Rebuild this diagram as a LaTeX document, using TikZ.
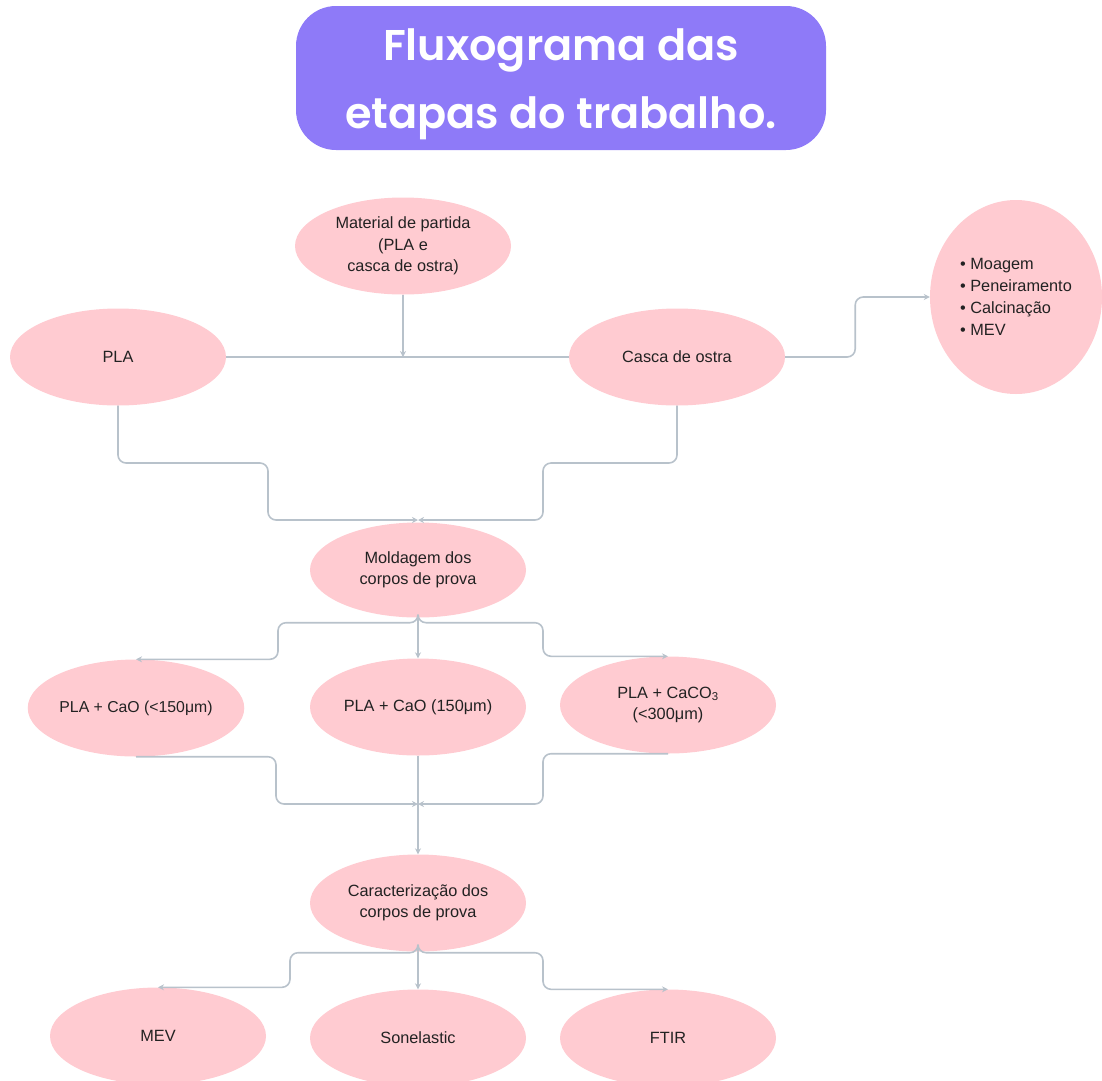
\documentclass[tikz,border=0pt]{standalone}
\usepackage{fontspec}
\setmainfont{Liberation Sans}
\newfontfamily\titlefont{Poppins}[UprightFont=* SemiBold]
\usetikzlibrary{shapes.geometric,arrows.meta,calc}
\definecolor{pinkfill}{HTML}{FFCBD1}
\definecolor{linegray}{HTML}{B8C2CB}
\definecolor{titlepurple}{HTML}{8E7AF8}
\definecolor{txt}{HTML}{222222}
\begin{document}
\begin{tikzpicture}[x=1pt,y=-1pt,
  bub/.style={ellipse,fill=pinkfill,draw=none,minimum width=216pt,minimum height=97pt,inner sep=0pt,align=center,text=txt,font=\fontsize{16.3}{21.5}\selectfont},
  conn/.style={draw=linegray,line width=1.6pt,rounded corners=8pt},
  arr/.style={conn,-{Stealth[length=6pt,width=6pt]}}]
\useasboundingbox (0,0) rectangle (1102,1080);
\node[fill=titlepurple,rounded corners=40pt,minimum width=530pt,minimum height=144pt,inner sep=0pt] (title) at (561,78) {};
\node[text=white,align=center,font=\titlefont\fontsize{43}{68}\selectfont] (tt) at (561,84) {Fluxograma das\\etapas do trabalho.};

\node[bub] (mat) at (403,246) {Material de partida\\(PLA e\\casca de ostra)};
\node[bub] (pla) at (118,357) {PLA};
\node[bub] (casca) at (677,357) {Casca de ostra};
\node[bub,minimum width=172pt,minimum height=194pt,align=left,font=\fontsize{16.3}{22}\selectfont] (list) at (1016,297) {• Moagem\\• Peneiramento\\• Calcinação\\• MEV};
\node[bub,minimum height=95pt] (mold) at (418,570) {Moldagem dos\\corpos de prova};
\node[bub,font=\fontsize{15.8}{21.5}\selectfont] (cao1) at (136,708) {PLA + CaO (<150μm)};
\node[bub] (cao2) at (418,707) {PLA + CaO (150μm)};
\node[bub] (caco) at (668,705) {PLA + CaCO\textsubscript{3}\\(<300μm)};
\node[bub] (car) at (418,903) {Caracterização dos\\corpos de prova};
\node[bub] (mev) at (158,1036) {MEV};
\node[bub] (son) at (418,1038) {Sonelastic};
\node[bub] (ftir) at (668,1038) {FTIR};

\coordinate (j0) at (403,357);
\coordinate (jm) at (418,520);
\coordinate (jc) at (418,804);

\draw[conn] (pla.east) -- (casca.west);
\draw[arr] (mat.south) -- (j0);
\draw[arr] (casca.east) -- ++(70,0) |- (list.west);
\draw[arr] (pla.south) |- (268,463) |- (jm);
\draw[arr] (casca.south) |- (543,463) |- (jm);

\draw[arr] (mold.south) -- (cao2.north);
\draw[arr] (mold.south) -- ++(0,5) -| (278,640) |- (cao1.north);
\draw[arr] (mold.south) -- ++(0,5) -| (543,640) |- (caco.north);

\draw[arr] (cao1.south) -| (276,780) |- (jc);
\draw[arr] (caco.south) -| (543,780) |- (jc);
\draw[arr] (cao2.south) -- (car.north);

\draw[arr] (car.south) -- (son.north);
\draw[arr] (car.south) -- ++(0,1) -| (290,970) |- (mev.north);
\draw[arr] (car.south) -- ++(0,1) -| (543,970) |- (ftir.north);
\end{tikzpicture}
\end{document}
